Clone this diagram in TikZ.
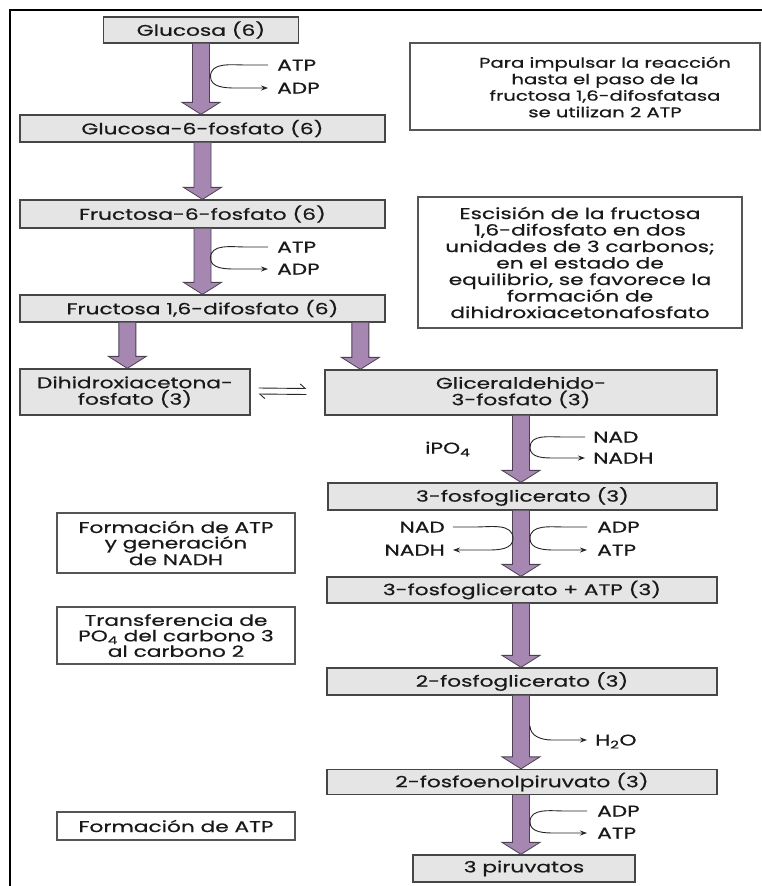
\documentclass[tikz,border=0pt]{standalone}
\usepackage{fontspec}
\setmainfont[FakeStretch=1.4,FakeBold=0.6]{Poppins}
\usetikzlibrary{arrows.meta,calc}
\definecolor{boxfill}{RGB}{229,229,229}
\definecolor{boxline}{RGB}{70,70,70}
\definecolor{notline}{RGB}{85,85,85}
\definecolor{arrfill}{RGB}{165,135,178}
\definecolor{arrline}{RGB}{75,65,80}
\newcommand\blockarrow[2]{%
  \path[fill=arrfill,draw=arrline,line width=0.8pt] let \p1=(#1),\p2=(#2) in
  (\x1-8.5pt,\y1) -- (\x1-8.5pt,\y2+12pt) -- (\x1-19pt,\y2+12pt) -- (\x1,\y2)
  -- (\x1+19pt,\y2+12pt) -- (\x1+8.5pt,\y2+12pt) -- (\x1+8.5pt,\y1);}
\tikzset{
  every node/.style={font=\fontsize{15.5}{16.5}\selectfont, text=black!90},
  stage/.style={draw=boxline, fill=boxfill, line width=1.3pt, inner sep=0pt, align=center},
  note/.style={draw=notline, fill=white, line width=1.2pt, inner sep=0pt, align=center},
  notetext/.style={inner sep=0pt, align=center},
  lbl/.style={inner sep=0pt, text height=11pt, text depth=0pt},
  side/.style={draw=black!85, line width=0.9pt},
  sidearr/.style={side, -{Stealth[length=7pt,width=5pt]}},
  frame/.style={draw=black, line width=2.6pt},
  harp/.style={draw=black!85, line width=0.9pt, -{Straight Barb[harpoon,length=5pt,width=9pt]}}
}
\begin{document}
\begin{tikzpicture}[x=1pt,y=-1pt]
\useasboundingbox (0,0) rectangle (762,886);
\fill[white] (0,0) rectangle (762,886);
\draw[frame] (10,890) -- (10,10) -- (766,10);

% main stages
\node[stage, minimum width=195, minimum height=26] (glu) at (201,30) {Glucosa (6)};
\node[stage, minimum width=365, minimum height=27] (g6p) at (202.5,128.5) {Glucosa-6-fosfato (6)};
\node[stage, minimum width=365, minimum height=28] (f6p) at (202.5,214) {Fructosa-6-fosfato (6)};
\node[stage, minimum width=365, minimum height=27] (f16) at (202.5,308.5) {Fructosa 1,6-difosfato (6)};
\node[stage, minimum width=230, minimum height=46] (dhap) at (135,392) {Dihidroxiacetona-\\fosfato (3)};
\node[stage, minimum width=392, minimum height=45] (g3p) at (521,392.5) {Gliceraldehido-\\3-fosfato (3)};
\node[stage, minimum width=389, minimum height=27] (pg3) at (522.5,496.5) {3-fosfoglicerato (3)};
\node[stage, minimum width=390, minimum height=26] (pg3atp) at (522,590) {3-fosfoglicerato + ATP (3)};
\node[stage, minimum width=390, minimum height=27] (pg2) at (522,681.5) {2-fosfoglicerato (3)};
\node[stage, minimum width=390, minimum height=25] (pep) at (522,782) {2-fosfoenolpiruvato (3)};
\node[stage, minimum width=222, minimum height=27] (pyr) at (524,868.5) {3 piruvatos};

% notes
\node[note, minimum width=350, minimum height=87] (n1) at (585,86.5) {};
\node[notetext, font=\fontsize{14}{16.5}\selectfont] (n1t) at (605,87) {Para impulsar la reacción\\hasta el paso de la\\fructosa 1,6-difosfatasa\\se utilizan 2 ATP};
\node[note, minimum width=324, minimum height=131] (n2) at (580,262.5) {Escisión de la fructosa\\1,6-difosfato en dos\\unidades de 3 carbonos;\\en el estado de\\equilibrio, se favorece la\\formación de\\dihidroxiacetonafosfato};
\node[note, minimum width=238, minimum height=60, font=\fontsize{15.5}{15.5}\selectfont] (n3) at (176,543) {Formación de ATP\\y generación\\de NADH};
\node[note, minimum width=238, minimum height=57, font=\fontsize{15.5}{15.5}\selectfont] (n4) at (176,635.5) {Transferencia de\\PO\textsubscript{4} del carbono 3\\al carbono 2};
\node[note, minimum width=238, minimum height=28] (n5) at (176,826) {Formación de ATP};

% block arrows
\blockarrow{glu.south}{g6p.north}
\blockarrow{g6p.south}{g6p.south |- f6p.north}
\blockarrow{f6p.south}{f16.north}
\coordinate (sL) at ($(f16.south west)+(108,0)$);
\coordinate (sR) at ($(f16.south west)+(341,0)$);
\blockarrow{sL}{sL |- dhap.north}
\blockarrow{sR}{sR |- g3p.north}
\blockarrow{g3p.south}{pg3.north}
\blockarrow{g3p.south |- pg3.south}{g3p.south |- pg3atp.north}
\blockarrow{g3p.south |- pg3atp.south}{g3p.south |- pg2.north}
\blockarrow{g3p.south |- pg2.south}{g3p.south |- pep.north}
\blockarrow{g3p.south |- pep.south}{g3p.south |- pyr.north}

% equilibrium harpoons
\coordinate (hA) at ($(dhap.east)+(8,-4)$);
\coordinate (hB) at ($(g3p.west)+(-18,-4)$);
\coordinate (hC) at ($(dhap.east)+(8,2)$);
\coordinate (hD) at ($(g3p.west)+(-18,2)$);
\draw[harp] (hA) -- (hB);
\draw[harp] (hD) -- (hC);

% side reactions
\node[lbl, anchor=west] (atp1) at (277,65) {ATP};
\node[lbl, anchor=west] (adp1) at (277,88) {ADP};
\draw[sidearr] ([xshift=-9pt]atp1.west) -- ++(-22,0) to[out=180,in=90] (210.5,76.5)
  to[out=-90,in=180] ++(25,11.5) -- ([xshift=-9pt]adp1.west);

\node[lbl, anchor=west] (atp2) at (277,247) {ATP};
\node[lbl, anchor=west] (adp2) at (277,269) {ADP};
\draw[sidearr] ([xshift=-9pt]atp2.west) -- ++(-22,0) to[out=180,in=90] (210.5,258)
  to[out=-90,in=180] ++(25,11) -- ([xshift=-9pt]adp2.west);

\node[lbl, anchor=west] (ipo) at (425,448) {iPO\textsubscript{4}};
\node[lbl, anchor=west] (nad1) at (593,437) {NAD};
\node[lbl, anchor=west] (nadh1) at (593,458) {NADH};
\draw[sidearr] ([xshift=-8pt]nad1.west) -- ++(-22,0) to[out=180,in=90] (530,447.5)
  to[out=-90,in=180] ++(25,10.5) -- ([xshift=-8pt]nadh1.west);

\node[lbl, anchor=east] (nad2) at (445,527) {NAD};
\node[lbl, anchor=east] (nadh2) at (445,550) {NADH};
\draw[sidearr] ([xshift=8pt]nad2.east) -- ++(22,0) to[out=0,in=90] (513,538.5)
  to[out=-90,in=0] ++(-25,11.5) -- ([xshift=8pt]nadh2.east);
\node[lbl, anchor=west] (adp3) at (597,527) {ADP};
\node[lbl, anchor=west] (atp3) at (597,550) {ATP};
\draw[sidearr] ([xshift=-10pt]adp3.west) -- ++(-22,0) to[out=180,in=90] (530,538.5)
  to[out=-90,in=180] ++(25,11.5) -- ([xshift=-10pt]atp3.west);

\node[lbl, anchor=west] (h2o) at (595,740) {H\textsubscript{2}O};
\coordinate (hs) at (530,726);
\draw[sidearr] (hs) to[out=-90,in=180] ++(22,14) -- ([xshift=-8pt]h2o.west);

\node[lbl, anchor=west] (adp4) at (597,811) {ADP};
\node[lbl, anchor=west] (atp4) at (597,833) {ATP};
\draw[sidearr] ([xshift=-10pt]adp4.west) -- ++(-22,0) to[out=180,in=90] (530,822)
  to[out=-90,in=180] ++(25,11) -- ([xshift=-10pt]atp4.west);
\end{tikzpicture}
\end{document}
